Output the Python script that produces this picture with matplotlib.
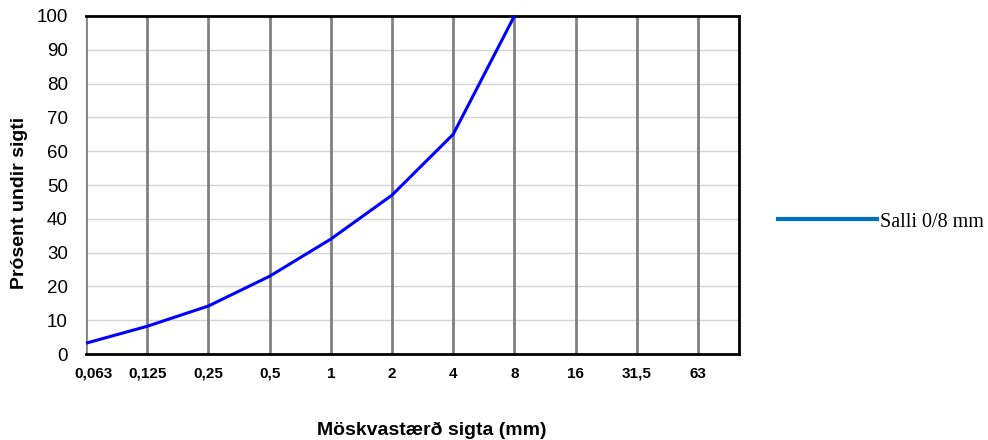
import matplotlib
matplotlib.use("Agg")
import matplotlib.pyplot as plt
import matplotlib.transforms as mtransforms
from matplotlib.lines import Line2D

categories = ["0,063", "0,125", "0,25", "0,5", "1", "2", "4", "8", "16", "31,5", "63"]
salli_values = [3.2, 8.2, 14.2, 23.0, 34.0, 47.0, 65.0, 100.0]
series_name = "Salli 0/8 mm"
y_ticks = list(range(0, 101, 10))

fig = plt.figure(figsize=(9.88, 4.4), dpi=100)
ax = fig.add_axes([86/988, 1 - 354/440, (739-86)/988, (354-16)/440])

x = list(range(len(categories)))
ax.plot(x[:len(salli_values)], salli_values, color="#0000FF", lw=2.2, solid_capstyle="butt", zorder=5, clip_on=False)

ax.set_xlim(0, 10.67)
ax.set_ylim(0, 100)
ax.set_xticks(x)
ax.set_xticklabels(categories, fontfamily="Liberation Sans", fontweight="bold", fontsize=11)
ax.set_yticks(y_ticks)
ax.set_yticklabels([str(v) for v in y_ticks], fontfamily="Liberation Sans", fontsize=13.5)
ax.tick_params(axis="both", length=0)
ax.tick_params(axis="x", pad=9)
ax.tick_params(axis="y", pad=13)

first = ax.get_xticklabels()[0]
first.set_transform(first.get_transform() + mtransforms.ScaledTranslation(7/100, 0, fig.dpi_scale_trans))

for yv in y_ticks[1:]:
    ax.axhline(yv, color="#d4d4d4", lw=1.0, zorder=1)
for xv in x:
    ax.axvline(xv, color="#808080", lw=2.0, zorder=2)

for s in ["top", "right", "bottom"]:
    ax.spines[s].set_color("black")
    ax.spines[s].set_linewidth(2.0)
ax.spines["left"].set_visible(False)

fig.text(20/988, 1 - 203/440, "Prósent undir sigti", rotation=90, ha="center", va="center",
         fontfamily="Liberation Sans", fontweight="bold", fontsize=14)
fig.text(432/988, 1 - 430/440, "Möskvastærð sigta (mm)", ha="center", va="center",
         fontfamily="Liberation Sans", fontweight="bold", fontsize=14)

handle = Line2D([], [], color="#0070C0", lw=3)
fig.legend([handle], [series_name], loc="center left", bbox_to_anchor=(778/988, 1 - 222/440),
           frameon=False, prop={"family": "Liberation Serif", "size": 14.5},
           handlelength=4.9, handletextpad=0.15, borderaxespad=0, borderpad=0)

fig.savefig("out.png", dpi=100)
